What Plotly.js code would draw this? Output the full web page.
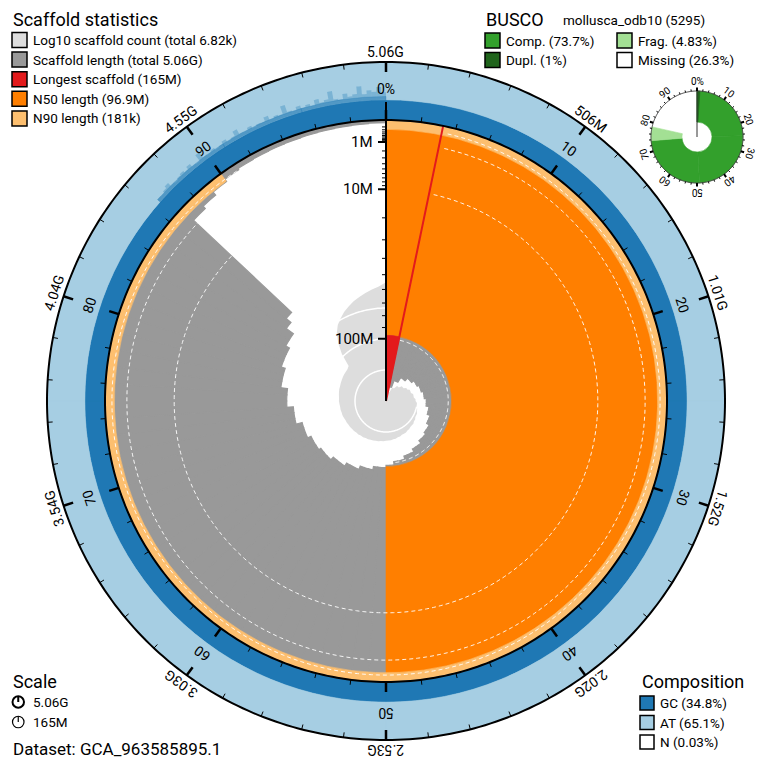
<!DOCTYPE html>
<html>
<head>
<meta charset="utf-8">
<script src="https://cdn.plot.ly/plotly-3.0.1.min.js"></script>
<style>html,body{margin:0;padding:0;background:#fff;}#chart{width:764px;height:769px;}</style>
</head>
<body>
<div id="chart"></div>
<script>
// ---------------- data ----------------
const datasetName = 'GCA_963585895.1';
const totalLengthLabel = '5.06G';
const scaffoldCountLabel = '6.82k';
const longestMb = 165;
const n50Mb = 96.9;
const n90Mb = 0.181;
const compositionLabels = ['GC', 'AT', 'N'];
const compositionPct = [34.8, 65.1, 0.03];

// scaffold length (Mb) in each 1% bin of the assembly, longest first
const lengthByPercentMb = [
  165,165,165,148,148,148,140,140,140,134,134,134,130,130,130,127,127,127,125,125,
  125,123,123,123,121,121,121,118,118,118,115,115,115,112,112,112,110,110,110,107,
  107,107,104,104,104,101,101,101,98,98,
  96,96,96,93,93,93,90,90,90,87,87,87,84,84,84,82,82,82,79,79,
  79,74,74,74,69,69,69,64,64,64,61,61,61,58,58,52,48,0.6,0.4,0.2,
  0.1,0.06,0.05,0.045,0.04,0.035,0.03,0.025,0.02,0.015
];
// cumulative scaffold count reached in each 1% bin
const countByPercent = [
  1,1,1,2,2,2,3,3,3,4,4,4,5,5,5,6,6,7,7,7,
  8,8,8,9,9,10,10,10,11,11,12,12,12,13,13,14,14,14,15,15,
  16,16,16,17,17,18,18,19,19,19,
  20,20,21,21,22,22,23,23,24,24,25,25,26,26,27,27,28,28,29,30,
  30,31,31,32,33,33,34,35,36,36,37,38,39,40,40,41,45,120,260,500,
  800,1100,1500,1900,2400,2900,3500,4200,5000,6820
];
// highest GC % in 0.25% bins over the tail of small scaffolds (86.5% .. 100%)
const gcTailStartPct = 86.5;
const gcTailMaxPct = [
  41,40,43,47,40,39,42,44,41,46,40,39,52,41,40,43,39,41,45,40,
  42,50,41,40,44,39,42,41,48,40,43,41,55,42,40,46,41,44,40,49,
  42,45,58,43,41,50,44,47,60,46,52,49,57,48
];
const gcTailBandPct = 40.5;

const outerTickLabels = ['5.06G','506M','1.01G','1.52G','2.02G','2.53G','3.03G','3.54G','4.04G','4.55G'];
const percentTickLabels = ['0%','10','20','30','40','50','60','70','80','90'];
const radialMajorMb = [1, 10, 100];
const radialMajorLabels = ['1M', '10M', '100M'];
const radialMinorMb = [0.1,0.2,0.3,0.4,0.5,0.6,0.7,0.8,0.9,2,3,4,5,6,7,8,9,20,30,40,50,60,70,80,90];

const buscoLineage = 'mollusca_odb10';
const buscoTotal = 5295;
const buscoLabels = ['Comp.', 'Dupl.', 'Frag.', 'Missing'];
const buscoPct = [73.7, 1, 4.83, 26.3];
const buscoTickLabels = ['0%','10','20','30','40','50','60','70','80','90'];

// ---------------- geometry & style ----------------
const W = 764, H = 769;
const CX = 386, CY = 401;
const RMAX = 360;
const R_IN = 281, R_OUT = 339;
const COUNT_SCALE = 31;          // px per decade of scaffold count
const BX = 697, BY = 137, BRMAX = 54, B_IN = 15, B_OUT = 46;
const FONT = 'Roboto, sans-serif';
const C = {
  count: '#dddddd', length: '#999999', longest: '#e31a1c', n50: '#ff7f00', n90: '#fdbf6f',
  gc: '#1f78b4', at: '#a6cee3', comp: '#33a02c', dupl: '#20641c', frag: '#a3e094'
};

const traces = [];
const dOfLen = mb => R_IN * (1 - Math.sqrt(mb / longestMb));
const longestPct = longestMb / 5060 * 100;

function sectors(subplot, p0, p1, n, base, r, color) {
  const th = [], w = [], b = [], rr = [];
  const step = (p1 - p0) / n;
  for (let k = 0; k < n; k++) { th.push((p0 + step * (k + 0.5)) * 3.6); w.push(step * 3.6); b.push(base); rr.push(r); }
  traces.push({type:'barpolar', subplot, theta: th, width: w, base: b, r: rr,
    marker:{color, line:{width:0.6, color}}, hoverinfo:'skip', showlegend:false});
}
function circle(subplot, r, color, width, dash, skipTo) {
  const th = [], rr = [];
  for (let d = 0; d <= 360; d += 1) { th.push(d); rr.push(skipTo && d < skipTo ? null : r); }
  traces.push({type:'scatterpolar', subplot, mode:'lines', theta: th, r: rr,
    line:{color, width, dash: dash || 'solid'}, hoverinfo:'skip', showlegend:false});
}
function radialSegs(subplot, pcts, r0, r1, color, width) {
  const th = [], rr = [];
  pcts.forEach(p => { th.push(p * 3.6, p * 3.6, null); rr.push(r0, r1, null); });
  traces.push({type:'scatterpolar', subplot, mode:'lines', theta: th, r: rr,
    line:{color, width}, hoverinfo:'skip', showlegend:false});
}

// scaffold length distribution (grey)
const grayBase = lengthByPercentMb.map(dOfLen);
traces.push({type:'barpolar', subplot:'polar',
  theta: lengthByPercentMb.map((_, i) => (i + 0.5) * 3.6),
  width: lengthByPercentMb.map(() => 3.6),
  base: grayBase, r: grayBase.map(b => R_IN - b),
  marker:{color:C.length, line:{width:1.2, color:C.length}}, hoverinfo:'skip', showlegend:false});
// N50 and N90
sectors('polar', 0, 50, 2, dOfLen(n50Mb), R_IN - dOfLen(n50Mb), C.n50);
sectors('polar', 0, 90, 4, dOfLen(n90Mb), R_IN - dOfLen(n90Mb), C.n90);
// dashed decade circles
[0.1, 1, 10, 100].forEach(mb => circle('polar', dOfLen(mb), 'rgba(255,255,255,0.9)', 1, '4px,3px', longestPct * 3.6 + 1));
// longest scaffold
sectors('polar', 0, longestPct, 1, 0, dOfLen(n50Mb), C.longest);

// scaffold count spiral
const spiralR = countByPercent.map(c => COUNT_SCALE * Math.log10(c));
traces.push({type:'scatterpolar', subplot:'polar', mode:'lines', fill:'toself', fillcolor:C.count,
  theta: [0].concat(spiralR.map((_, i) => (i + 1) * 3.6)), r: [0].concat(spiralR),
  line:{width:0, color:C.count}, hoverinfo:'skip', showlegend:false});
[1, 2, 3].forEach(k => {
  const rk = COUNT_SCALE * k, th = [], rr = [];
  for (let d = 0; d <= 360; d++) {
    const i = Math.min(99, Math.floor(d / 3.6));
    th.push(d); rr.push(spiralR[i] > rk + 1 ? rk : null);
  }
  traces.push({type:'scatterpolar', subplot:'polar', mode:'lines', theta: th, r: rr,
    line:{color:'#ffffff', width:1.5}, hoverinfo:'skip', showlegend:false});
});
// longest scaffold edge
radialSegs('polar', [longestPct], 0, R_IN, C.longest, 2);

// composition ring
const ringW = R_OUT - R_IN;
const gcR = R_IN + compositionPct[0] / 100 * ringW;
sectors('polar', 0, 100, 4, R_IN, gcR - R_IN, C.gc);
sectors('polar', 0, 100, 4, gcR, R_OUT - gcR, C.at);
traces.push({type:'barpolar', subplot:'polar',
  theta: gcTailMaxPct.map((_, i) => (gcTailStartPct + 0.25 * i + 0.125) * 3.6),
  width: gcTailMaxPct.map(() => 0.9),
  base: gcTailMaxPct.map(() => gcR),
  r: gcTailMaxPct.map(v => (v - compositionPct[0]) / 100 * ringW),
  marker:{color:'rgba(31,120,180,0.32)', line:{width:0}}, hoverinfo:'skip', showlegend:false});
sectors('polar', gcTailStartPct, 100, 3, gcR - 1, (gcTailBandPct - compositionPct[0]) / 100 * ringW + 1, 'rgba(31,120,180,0.45)');

// radial axis with ticks
radialSegs('polar', [0], 0, 299, '#000', 2);
function hTicks(mbs, len, width) {
  const th = [], rr = [];
  mbs.forEach(mb => {
    const d = dOfLen(mb);
    th.push(0, 360 - Math.atan2(len, d) * 180 / Math.PI, null);
    rr.push(d, Math.hypot(len, d), null);
  });
  traces.push({type:'scatterpolar', subplot:'polar', mode:'lines', theta: th, r: rr,
    line:{color:'#000', width}, hoverinfo:'skip', showlegend:false});
}
hTicks(radialMajorMb, 8, 2);
hTicks(radialMinorMb, 4, 1);

// circles and angular ticks
circle('polar', R_IN, '#000', 2);
circle('polar', R_OUT, '#000', 2);
const majorPct = [0,10,20,30,40,50,60,70,80,90];
const minorPct = [];
for (let p = 2; p < 100; p += 2) if (p % 10) minorPct.push(p);
radialSegs('polar', majorPct, R_OUT - 10, R_OUT, '#000', 2.5);
radialSegs('polar', minorPct, R_OUT - 5, R_OUT, '#000', 1);
radialSegs('polar', majorPct, R_IN, R_IN + 10, '#000', 2.5);
radialSegs('polar', minorPct, R_IN, R_IN + 5, '#000', 1);

// ---------------- BUSCO donut ----------------
sectors('polar2', 0, buscoPct[0], 3, B_IN, B_OUT - B_IN, C.comp);
sectors('polar2', buscoPct[0], buscoPct[0] + buscoPct[2], 1, B_IN, B_OUT - B_IN, C.frag);
sectors('polar2', 0, buscoPct[1], 1, B_IN, B_OUT - B_IN, C.dupl);
circle('polar2', B_OUT, '#444', 1);
radialSegs('polar2', [0], 0, B_OUT, '#333', 1);
radialSegs('polar2', majorPct, B_OUT, B_OUT + 3.5, '#000', 2);
radialSegs('polar2', minorPct, B_OUT, B_OUT + 2, '#000', 1);

// ---------------- annotations ----------------
const ann = [];
const shapes = [];
const px = x => x / W, py = y => 1 - y / H;
function polarText(text, r, deg, cx, cy, size) {
  const t = deg * Math.PI / 180;
  ann.push({text, xref:'paper', yref:'paper', x: px(cx + r * Math.sin(t)), y: py(cy - r * Math.cos(t)),
    xanchor:'center', yanchor:'middle', showarrow:false, textangle: deg,
    font:{family:FONT, size, color:'#000'}});
}
outerTickLabels.forEach((t, i) => polarText(t, 349, i * 36, CX, CY, 14));
percentTickLabels.forEach((t, i) => polarText(t, 312, i * 36, CX, CY, 14));
buscoTickLabels.forEach((t, i) => polarText(t, 55, i * 36, BX, BY, 10));
radialMajorMb.forEach((mb, i) => {
  ann.push({text: radialMajorLabels[i], xref:'paper', yref:'paper', x: px(CX - 11), y: py(CY - dOfLen(mb)),
    xanchor:'right', yanchor:'middle', showarrow:false, font:{family:FONT, size:15, color:'#000'}});
});
function text(t, x, y, size, anchor) {
  ann.push({text: t, xref:'paper', yref:'paper', x: px(x), y: py(y), xanchor: anchor || 'left', yanchor:'middle',
    showarrow:false, font:{family:FONT, size, color:'#000'}});
}
function swatch(x, y, s, color) {
  shapes.push({type:'rect', xref:'paper', yref:'paper', x0: px(x), x1: px(x + s), y0: py(y - s / 2), y1: py(y + s / 2),
    fillcolor: color, line:{color:'#000', width:1.5}});
}
// scaffold statistics legend
text('Scaffold statistics', 11, 19, 18);
const statLabels = [
  'Log10 scaffold count (total ' + scaffoldCountLabel + ')',
  'Scaffold length (total ' + totalLengthLabel + ')',
  'Longest scaffold (' + longestMb + 'M)',
  'N50 length (' + n50Mb + 'M)',
  'N90 length (' + Math.round(n90Mb * 1000) + 'k)'
];
const statColors = [C.count, C.length, C.longest, C.n50, C.n90];
statLabels.forEach((t, i) => { const y = 40 + i * 19.6; swatch(12, y, 15, statColors[i]); text(t, 31, y, 13.5); });
// BUSCO legend
text('BUSCO', 484, 19, 18);
text(buscoLineage + ' (' + buscoTotal + ')', 561, 20, 13.5);
const bcol = [C.comp, C.dupl, C.frag, '#ffffff'];
[[0, 485, 40.5], [1, 485, 60], [2, 617, 40.5], [3, 617, 60]].forEach(([k, x, y]) => {
  swatch(x, y, 15, bcol[k]); text(buscoLabels[k] + ' (' + buscoPct[k] + '%)', x + 19, y, 13.5);
});
// scale
text('Scale', 11, 681, 18);
[[702, 2], [722, 1.2]].forEach(([y, w]) => {
  shapes.push({type:'circle', xref:'paper', yref:'paper', x0: px(12.5), x1: px(24), y0: py(y - 5.75), y1: py(y + 5.75),
    line:{color:'#000', width:w}});
  shapes.push({type:'line', xref:'paper', yref:'paper', x0: px(18.25), x1: px(18.25), y0: py(y), y1: py(y - 5.75),
    line:{color:'#000', width:w}});
});
text(totalLengthLabel, 31, 702, 13.5);
text(longestMb + 'M', 31, 722, 13.5);
text('Dataset: ' + datasetName, 11, 749, 17);
// composition legend
text('Composition', 640, 681, 18);
const ccol = [C.gc, C.at, '#ffffff'];
compositionLabels.forEach((l, i) => { const y = 703 + i * 19.5; swatch(640, y, 14, ccol[i]); text(l + ' (' + compositionPct[i] + '%)', 658, y, 13.5); });

const layout = {
  width: W, height: H, margin:{l:0, r:0, t:0, b:0}, paper_bgcolor:'#fff', showlegend:false,
  polar: {
    domain:{x:[(CX - RMAX) / W, (CX + RMAX) / W], y:[(H - CY - RMAX) / H, (H - CY + RMAX) / H]},
    bgcolor:'rgba(0,0,0,0)', bargap:0, barmode:'overlay',
    radialaxis:{visible:false, range:[0, RMAX]},
    angularaxis:{visible:false, rotation:90, direction:'clockwise'}
  },
  polar2: {
    domain:{x:[(BX - BRMAX) / W, (BX + BRMAX) / W], y:[(H - BY - BRMAX) / H, (H - BY + BRMAX) / H]},
    bgcolor:'rgba(0,0,0,0)', bargap:0, barmode:'overlay',
    radialaxis:{visible:false, range:[0, BRMAX]},
    angularaxis:{visible:false, rotation:90, direction:'clockwise'}
  },
  annotations: ann, shapes
};
Plotly.newPlot('chart', traces, layout, {displayModeBar:false, staticPlot:true});
</script>
</body>
</html>
